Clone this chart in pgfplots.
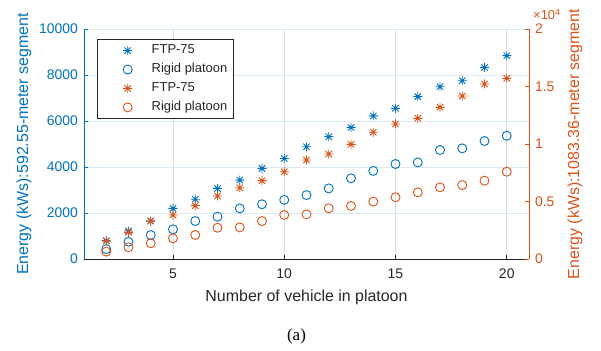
\documentclass[border=0pt]{standalone}
\usepackage{pgfplots}
\pgfplotsset{compat=1.18}
\usepackage{fontspec}
\setmainfont{Liberation Sans}
\newfontfamily\seriffont{Liberation Serif}
\definecolor{mblue}{RGB}{0,114,189}
\definecolor{morange}{RGB}{217,83,25}
\definecolor{mgray}{RGB}{38,38,38}
\definecolor{gridb}{RGB}{217,234,245}
\definecolor{gridg}{RGB}{223,223,223}
\pgfdeclareplotmark{mstar}{%
 \pgfpathmoveto{\pgfqpoint{0pt}{\pgfplotmarksize}}\pgfpathlineto{\pgfqpoint{0pt}{-\pgfplotmarksize}}%
 \pgfpathmoveto{\pgfqpoint{\pgfplotmarksize}{0pt}}\pgfpathlineto{\pgfqpoint{-\pgfplotmarksize}{0pt}}%
 \pgfpathmoveto{\pgfqpoint{0.7071\pgfplotmarksize}{0.7071\pgfplotmarksize}}\pgfpathlineto{\pgfqpoint{-0.7071\pgfplotmarksize}{-0.7071\pgfplotmarksize}}%
 \pgfpathmoveto{\pgfqpoint{0.7071\pgfplotmarksize}{-0.7071\pgfplotmarksize}}\pgfpathlineto{\pgfqpoint{-0.7071\pgfplotmarksize}{0.7071\pgfplotmarksize}}%
 \pgfusepathqstroke}

\pgfplotstableread{
x y
2 796
3 1217
4 1650
5 2200
6 2600
7 3070
8 3430
9 3940
10 4370
11 4880
12 5320
13 5720
14 6220
15 6550
16 7060
17 7490
18 7750
19 8330
20 8840
}\bluestar
\pgfplotstableread{
x y
2 430
3 750
4 1040
5 1290
6 1650
7 1840
8 2200
9 2380
10 2570
11 2780
12 3070
13 3510
14 3830
15 4130
16 4200
17 4740
18 4810
19 5130
20 5360
}\bluecirc
\pgfplotstableread{
x y
2 1560
3 2320
4 3300
5 3830
6 4640
7 5480
8 6200
9 6810
10 7590
11 8610
12 9130
13 9970
14 11020
15 11740
16 12230
17 13190
18 14170
19 15220
20 15710
}\orangestar
\pgfplotstableread{
x y
2 640
3 1020
4 1370
5 1800
6 2090
7 2720
8 2750
9 3300
10 3830
11 3880
12 4410
13 4610
14 4990
15 5370
16 5800
17 6230
18 6430
19 6810
20 7590
}\orangecirc

\pgfplotsset{
 base/.style={
  scale only axis, width=445bp, height=230bp,
  xmin=1, xmax=21,
  scaled x ticks=false, scaled y ticks=false,
  tick align=inside, major tick length=4.5bp,
  tick label style={font=\fontsize{14}{14}\selectfont},
  label style={font=\fontsize{16}{16}\selectfont},
  clip=false,
 },
 sstar/.style={only marks, mark=mstar, mark size=4.5bp, mark options={line width=0.9bp}},
 scirc/.style={only marks, mark=o, mark size=4.5bp, mark options={line width=0.9bp}},
}

\begin{document}
\begin{tikzpicture}
\path[use as bounding box] (-84bp,-92bp) rectangle (517bp,259bp);
\begin{axis}[base,
  ymin=0, ymax=10000,
  axis x line*=bottom, axis y line*=left,
  xtick={5,10,15,20}, xticklabels={5,10,15,20},
  ytick={0,2000,4000,6000,8000,10000},
  yticklabels={0,2000,4000,6000,8000,10000},
  xmajorgrids, ymajorgrids,
  x grid style={gridg, line width=0.7bp},
  y grid style={gridb, line width=0.7bp},
  x axis line style={mgray, line width=0.8bp},
  y axis line style={mblue, line width=0.8bp},
  xtick style={mgray, line width=0.6bp},
  ytick style={mblue, line width=0.6bp},
  xticklabel style={text=mgray, yshift=-6bp},
  yticklabel style={text=mblue, xshift=-2.5bp},
  xlabel={Number of vehicle in platoon},
  ylabel={Energy (kWs):592.55-meter segment},
  xlabel style={text=mgray, at={(axis description cs:0.5,-0.165)}, anchor=center},
  ylabel style={text=mblue, at={(axis description cs:-0.135,0.5)}, anchor=center},
]
\addplot[sstar, mblue] table[x=x,y=y] {\bluestar};
\addplot[scirc, mblue] table[x=x,y=y] {\bluecirc};
\end{axis}
\begin{axis}[base,
  ymin=0, ymax=20000,
  axis x line=none, axis y line*=right,
  ytick={0,5000,10000,15000,20000},
  yticklabels={0,0.5,1,1.5,2},
  y axis line style={morange, line width=0.8bp},
  ytick style={morange, line width=0.6bp},
  yticklabel style={text=morange, xshift=2.5bp},
  ylabel={Energy (kWs):1083.36-meter segment},
  ylabel style={text=morange, at={(axis description cs:1.1034,0.5)}, anchor=center},
  legend style={at={(axis description cs:0.03,0.955)}, anchor=north west,
    draw=mgray, line width=0.7bp, fill=white, inner xsep=4bp, inner ysep=1.5bp,
    column sep=0bp, row sep=0bp,
    nodes={font=\fontsize{13}{13}\selectfont, text=mgray, text height=9.5bp, text depth=3bp, inner ysep=3.2bp}},
  legend cell align=left,
  legend image code/.code={\path[draw=none,fill=none] (-26bp,0bp) -- (22bp,0bp); \draw[#1] plot coordinates {(0bp,0bp)};},
]
\addlegendimage{sstar, mblue}
\addlegendentry{FTP-75}
\addlegendimage{scirc, mblue}
\addlegendentry{Rigid platoon}
\addplot[sstar, morange] table[x=x,y=y] {\orangestar};
\addlegendentry{FTP-75}
\addplot[scirc, morange] table[x=x,y=y] {\orangecirc};
\addlegendentry{Rigid platoon}
\end{axis}
\node[anchor=base west, inner sep=0pt, text=morange, font=\fontsize{13}{13}\selectfont] at (449bp,239bp) {×10\textsuperscript{4}};
\node[font=\seriffont\fontsize{17}{17}\selectfont, text=black] at (212.5bp,-77bp) {(a)};
\end{tikzpicture}
\end{document}
